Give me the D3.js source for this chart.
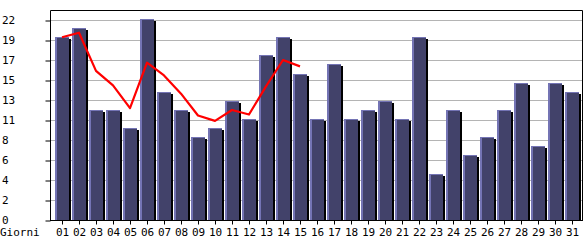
<!DOCTYPE html>
<html>
<head>
<meta charset="utf-8">
<script src="https://cdn.jsdelivr.net/npm/d3@7/dist/d3.min.js"></script>
<style>
  html, body { margin: 0; padding: 0; background: #fff; }
  svg { display: block; }
  text { font-family: "DejaVu Sans Mono", monospace; font-size: 11px; fill: #000; }
</style>
</head>
<body>
<svg id="chart" width="585" height="240"></svg>
<script>
const days = ["01","02","03","04","05","06","07","08","09","10","11","12","13","14","15","16","17","18","19","20","21","22","23","24","25","26","27","28","29","30","31"];
const visits = [20,21,12,12,10,22,14,12,9,10,13,11,18,20,16,11,17,11,12,13,11,20,5,12,7,9,12,15,8,15,14];
const trendDays = ["01","02","03","04","05","06","07","08","09","10","11","12","13","14","15"];
const trend = [20.1,20.6,16.4,14.8,12.3,17.3,15.9,13.9,11.5,10.9,12.1,11.6,14.7,17.6,16.9];
const yMax = 22;
const yTickLabels = ["0","2","4","6","8","11","13","15","17","19","22"];
const xTitle = "Giorni";

(function () {
const svg = d3.select("#chart");
const pL = 50, pR = 582, pT = 10, pB = 220;

const x = d3.scaleBand().domain(days).range([53, 580]).padding(0);
const y = d3.scaleLinear().domain([0, yMax]).range([pB, 20]);
const yTicks = yTickLabels.map((_, i) => yMax * i / (yTickLabels.length - 1));

// gridlines
svg.append("g").selectAll("line").data(yTicks.slice(1)).join("line")
  .attr("x1", pL).attr("x2", pR)
  .attr("y1", d => Math.round(y(d)) + 0.5).attr("y2", d => Math.round(y(d)) + 0.5)
  .attr("stroke", "#b4b4b4").attr("stroke-width", 1);

// bars
const bars = svg.append("g").selectAll("g").data(days.map((d, i) => ({d, v: visits[i]}))).join("g");
bars.append("rect") // shadow
  .attr("x", d => x(d.d) + 16).attr("y", d => Math.round(y(d.v)) + 1)
  .attr("width", 2).attr("height", d => pB - Math.round(y(d.v)) - 1)
  .attr("fill", "#000");
bars.append("rect") // light edge
  .attr("x", d => x(d.d) + 2).attr("y", d => Math.round(y(d.v)) - 1)
  .attr("width", 14).attr("height", d => pB - Math.round(y(d.v)) + 1)
  .attr("fill", "#7474b4");
bars.append("rect") // body
  .attr("x", d => x(d.d) + 4).attr("y", d => Math.round(y(d.v)))
  .attr("width", 12).attr("height", d => pB - Math.round(y(d.v)))
  .attr("fill", "#42426a");

// frame
svg.append("path")
  .attr("d", `M${pL + 0.5},${pB} V${pT + 0.5} H${pR + 0.5} V${pB}`)
  .attr("fill", "none").attr("stroke", "#000").attr("stroke-width", 1);

// trend line
const line = d3.line().x((d, i) => x(trendDays[i]) + 9).y(d => y(d));
svg.append("path").datum(trend)
  .attr("d", line)
  .attr("fill", "none").attr("stroke", "#ff0000").attr("stroke-width", 2.2)
  .attr("stroke-linejoin", "round");

// y axis
const yAxis = svg.append("g").attr("transform", `translate(${pL + 0.5},0.5)`)
  .call(d3.axisLeft(y).tickValues(yTicks).tickFormat((d, i) => yTickLabels[i]).tickSize(5).tickSizeOuter(0));
yAxis.select(".domain").remove();
yAxis.selectAll(".tick line").attr("stroke", "#000");
yAxis.selectAll(".tick text")
  .attr("x", -48.5).attr("dy", null).attr("y", 3)
  .attr("text-anchor", "start")
  .style("font-family", '"DejaVu Sans Mono", monospace').style("font-size", "11px");

// x axis
const xAxis = svg.append("g").attr("transform", `translate(1,${pB + 0.5})`)
  .call(d3.axisBottom(x).tickSize(4).tickSizeOuter(0));
xAxis.select(".domain").attr("d", `M${pL - 1},0 H${pR}`).attr("stroke", "#000");
xAxis.selectAll(".tick line").attr("stroke", "#000");
xAxis.selectAll(".tick text")
  .attr("y", 15.5).attr("dy", null)
  .style("font-family", '"DejaVu Sans Mono", monospace').style("font-size", "11px");

svg.append("text").attr("x", 0).attr("y", 236).text(xTitle);
})();
</script>
</body>
</html>
